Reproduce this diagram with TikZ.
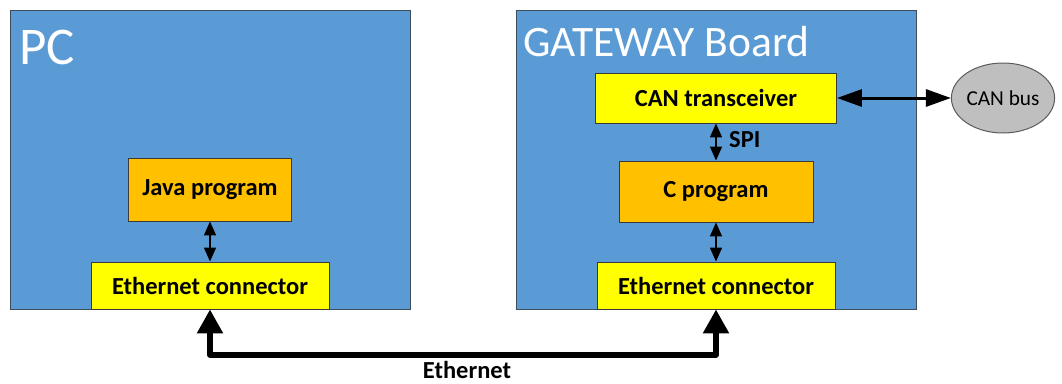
\documentclass[tikz,border=0pt]{standalone}
\usepackage{fontspec}
\setmainfont{Carlito}
\usetikzlibrary{arrows.meta,shapes.geometric}
\definecolor{boardblue}{HTML}{5B9BD5}
\definecolor{boardedge}{HTML}{3E4D5C}
\definecolor{partyellow}{HTML}{FFFF00}
\definecolor{partorange}{HTML}{FFC000}
\definecolor{partedge}{HTML}{3A3A3A}
\definecolor{busgray}{HTML}{BFBFBF}
\definecolor{busedge}{HTML}{5A5A5A}
\tikzset{
  board/.style={draw=boardedge, line width=1pt, fill=boardblue, inner sep=0pt},
  boardtitle/.style={text=white, anchor=base west, inner sep=0pt},
  part/.style={draw=partedge, line width=0.9pt, inner sep=0pt,
    font=\fontsize{24.5}{29}\selectfont\bfseries},
  yellowpart/.style={part, fill=partyellow},
  orangepart/.style={part, fill=partorange},
  link/.style={line width=1.6pt, {Triangle[width=12pt,length=14pt]}-{Triangle[width=12pt,length=14pt]}},
  buslink/.style={line width=3pt, {Triangle[width=17pt,length=25pt]}-{Triangle[width=17pt,length=25pt]}},
  netlink/.style={line width=5.5pt, line join=round, {Triangle[width=25pt,length=24pt]}-{Triangle[width=25pt,length=24pt]}},
  linklabel/.style={font=\fontsize{24.5}{29}\selectfont\bfseries, inner sep=0pt}
}
\begin{document}
\begin{tikzpicture}[x=1pt,y=-1pt]
  \useasboundingbox (0,0) rectangle (1062,383);

  % the two boards
  \node[board, minimum width=400pt, minimum height=299pt] (pc) at (210,159.5) {};
  \node[board, minimum width=400pt, minimum height=299pt] (gw) at (716,159.5) {};
  \node[boardtitle, font=\fontsize{53}{60}\selectfont] (pctitle) at (19,64) {PC};
  \node[boardtitle, font=\fontsize{43.5}{50}\selectfont] (gwtitle) at (523,56) {GATEWAY Board};

  % parts on the PC
  \node[orangepart, minimum width=163pt, minimum height=63pt] (java) at (210,189.5) {Java program};
  \node[yellowpart, minimum width=238pt, minimum height=47pt] (eth1) at (210,285.5) {Ethernet connector};

  % parts on the gateway board
  \node[yellowpart, minimum width=241pt, minimum height=50pt] (cantr) at (716,98) {CAN transceiver};
  \node[orangepart, minimum width=194pt, minimum height=61pt] (cprog) at (716,191.5) {C program};
  \node[yellowpart, minimum width=238pt, minimum height=47pt] (eth2) at (716,285.5) {Ethernet connector};

  % the CAN bus
  \node[ellipse, draw=busedge, line width=1pt, fill=busgray, minimum width=94pt, minimum height=70pt,
        inner sep=0pt, font=\fontsize{21.3}{25}\selectfont] (canbus) at (1003,98) {CAN bus};

  % internal links
  \draw[link] (java.south) -- (eth1.north);
  \draw[link] (cantr.south) -- (cprog.north);
  \node[linklabel, anchor=west] (spi) at (729,140) {SPI};
  \draw[link] (cprog.south) -- (eth2.north);

  % bus link
  \draw[buslink] (cantr.east) -- (canbus.west);

  % Ethernet link between the boards
  \coordinate (netturn) at (210,355);
  \draw[netlink] (eth1.south) -- (netturn) -| (eth2.south);
  \node[linklabel] (netlabel) at (467,370) {Ethernet};
\end{tikzpicture}
\end{document}
